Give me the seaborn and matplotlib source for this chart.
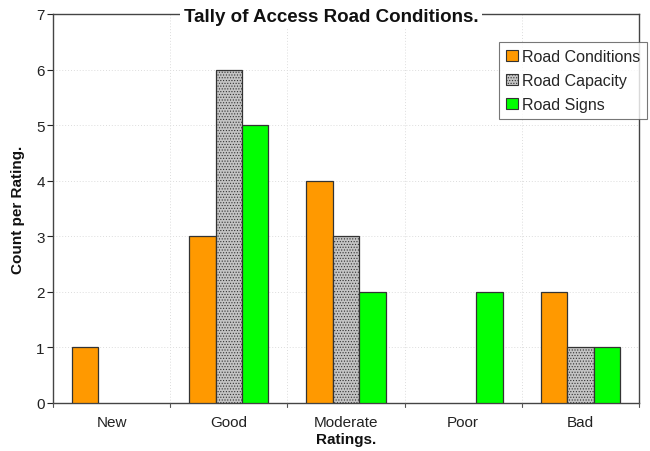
import matplotlib
matplotlib.use("Agg")
import matplotlib.pyplot as plt
import seaborn as sns
import pandas as pd
import numpy as np

categories = ["New", "Good", "Moderate", "Poor", "Bad"]
road_conditions = [1, 3, 4, np.nan, 2]
road_capacity = [np.nan, 6, 3, np.nan, 1]
road_signs = [np.nan, 5, 2, 2, 1]
series = ["Road Conditions", "Road Capacity", "Road Signs"]
colors = ["#FF9900", "#C4C4C4", "#00FF00"]

sns.set_theme(style="white")
plt.rcParams["font.family"] = ["Liberation Sans", "DejaVu Sans"]
plt.rcParams["hatch.color"] = "#8a8a8a"
plt.rcParams["hatch.linewidth"] = 0.5

rows = []
for s, vals in zip(series, [road_conditions, road_capacity, road_signs]):
    for c, v in zip(categories, vals):
        rows.append({"Rating": c, "Series": s, "Count": v})
df = pd.DataFrame(rows)

fig = plt.figure(figsize=(6.5, 4.52), dpi=100)
ax = fig.add_axes([53/650, 1-404/452, (639-53)/650, (404-15)/452])

sns.barplot(data=df, x="Rating", y="Count", hue="Series", order=categories,
            hue_order=series, palette=colors, width=0.675, gap=0,
            edgecolor="#333333", linewidth=0.9, saturation=1, ax=ax, zorder=3)

for bar in ax.containers[1]:
    bar.set_hatch("......")

ax.set_ylim(0, 7)
ax.set_xlim(-0.5, 4.5)
ax.set_yticks(range(0, 8))
ax.tick_params(axis="both", labelsize=11, colors="#222222", length=4, width=0.8,
               direction="out", left=True, bottom=False)
ax.tick_params(axis="y", pad=2)
ax.tick_params(axis="x", pad=5)
ax.set_xticks(range(5))
ax.set_xticklabels(categories)
for x in np.arange(-0.5, 5.0, 1.0):
    ax.plot([x, x], [0, -0.08], color="#555555", lw=0.8, clip_on=False, zorder=4)
    ax.axvline(x, color="#dddddd", lw=0.7, ls=(0, (1, 2)), zorder=0)
for y in range(1, 7):
    ax.axhline(y, color="#dddddd", lw=0.7, ls=(0, (1, 2)), zorder=0)

for sp in ax.spines.values():
    sp.set_color("#444444")
    sp.set_linewidth(1.0)

ax.set_xlabel("Ratings.", fontsize=11, fontweight="bold", labelpad=2, color="#111111")
ax.set_ylabel("Count per Rating.", fontsize=11, fontweight="bold", labelpad=8, color="#111111")

fig.text(331/650, 1-17.5/452, "Tally of Access Road Conditions.", fontsize=13.5,
         fontweight="bold", ha="center", va="center", color="#111111",
         bbox=dict(facecolor="white", edgecolor="none", pad=3))

leg = ax.legend(loc="upper right", bbox_to_anchor=(647/650, 1-43/452),
                bbox_transform=fig.transFigure, fontsize=11.5, frameon=True,
                fancybox=False, edgecolor="#555555", handlelength=0.7,
                handleheight=0.7, handletextpad=0.25, borderpad=0.45,
                labelspacing=0.55, borderaxespad=0)
leg.get_frame().set_linewidth(0.8)
leg.set_zorder(10)
for h in leg.legend_handles:
    h.set_edgecolor("#333333")
    h.set_linewidth(0.8)
leg.legend_handles[1].set_hatch("......")

fig.savefig("out.png", dpi=100)
